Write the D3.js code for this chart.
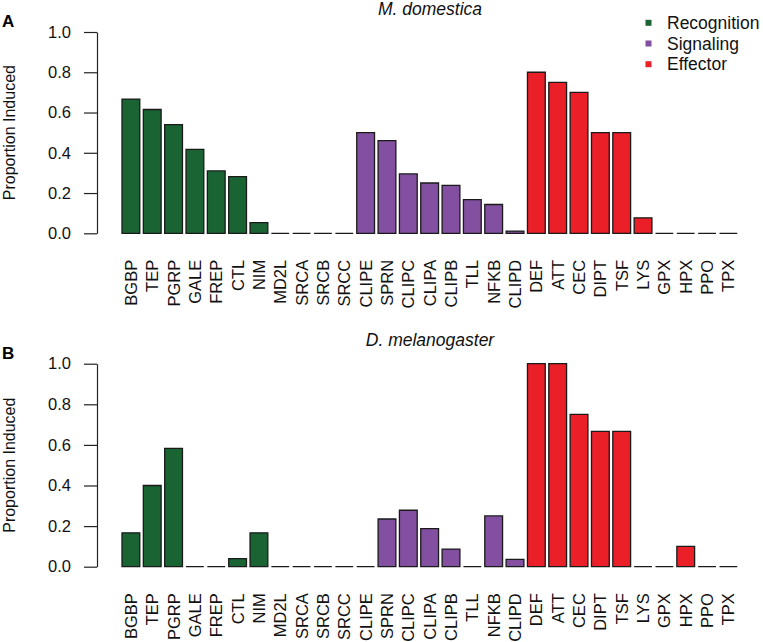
<!DOCTYPE html>
<html>
<head>
<meta charset="utf-8">
<script src="https://cdn.jsdelivr.net/npm/d3@7"></script>
<style>
  html, body { margin: 0; padding: 0; background: #fff; }
  svg { display: block; font-family: "Liberation Sans", Arial, Helvetica, sans-serif; }
</style>
</head>
<body>
<svg id="chart" width="763" height="642"></svg>
<script>
// ---- data ----
const genes = ["BGBP","TEP","PGRP","GALE","FREP","CTL","NIM","MD2L","SRCA","SRCB","SRCC",
               "CLIPE","SPRN","CLIPC","CLIPA","CLIPB","TLL","NFKB","CLIPD",
               "DEF","ATT","CEC","DIPT","TSF","LYS","GPX","HPX","PPO","TPX"];
const geneClass = ["Recognition","Recognition","Recognition","Recognition","Recognition","Recognition","Recognition","Recognition","Recognition","Recognition","Recognition",
                   "Signaling","Signaling","Signaling","Signaling","Signaling","Signaling","Signaling","Signaling",
                   "Effector","Effector","Effector","Effector","Effector","Effector","Effector","Effector","Effector","Effector"];
const domestica = [0.667,0.615,0.54,0.417,0.31,0.282,0.053,0,0,0,0,
                   0.5,0.46,0.295,0.25,0.238,0.167,0.143,0.011,
                   0.8,0.75,0.7,0.5,0.5,0.077,0,0,0,0];
const melanogaster = [0.167,0.4,0.583,0,0,0.04,0.167,0,0,0,0,
                      0,0.235,0.278,0.188,0.087,0,0.25,0.036,
                      1.0,1.0,0.75,0.667,0.667,0,0,0.1,0,0];
const classes = ["Recognition","Signaling","Effector"];
const classColors = ["#1a6434","#8350a1","#ea1f27"];
const yTicks = [0, 0.2, 0.4, 0.6, 0.8, 1.0];
const panels = [
  {letter: "A", title: "M. domestica", values: domestica, top: 32.0, bottom: 233.3},
  {letter: "B", title: "D. melanogaster", values: melanogaster, top: 363.7, bottom: 566.7}
];

// ---- drawing ----
const svg = d3.select("#chart");
const color = d3.scaleOrdinal().domain(classes).range(classColors);
const x = d3.scaleBand().domain(genes).range([122, 737.3]).paddingInner(1/6).paddingOuter(0);
const axisX = 97;

panels.forEach(p => {
  const g = svg.append("g");
  const y = d3.scaleLinear().domain([0, 1]).range([p.bottom, p.top]);

  // y axis
  const ax = g.append("g")
    .attr("transform", `translate(${axisX},0)`)
    .call(d3.axisLeft(y).tickValues(yTicks).tickFormat(d3.format(".1f"))
          .tickSize(13).tickSizeOuter(0).tickPadding(13));
  ax.select(".domain").attr("stroke", "#222").attr("stroke-width", 1.2);
  ax.selectAll(".tick line").attr("stroke", "#222").attr("stroke-width", 1.2);
  ax.selectAll(".tick text").attr("font-size", 16.5).attr("fill", "#111")
    .attr("font-family", '"Liberation Sans", Arial, sans-serif');

  // bars (path so zero-height bars still show as a line)
  g.selectAll("path.bar").data(genes).enter().append("path")
    .attr("class", "bar")
    .attr("d", (d, i) => {
      const x0 = x(d), w = x.bandwidth();
      const y0 = y(0), y1 = y(p.values[i]);
      return `M${x0},${y0}V${y1}H${x0 + w}V${y0}Z`;
    })
    .attr("fill", (d, i) => color(geneClass[i]))
    .attr("stroke", "#1a1a1a")
    .attr("stroke-width", 1.3);

  // category labels (rotated)
  const labelTop = p.bottom + 26.5;
  g.selectAll("text.gene").data(genes).enter().append("text")
    .attr("class", "gene")
    .attr("transform", d => `translate(${x(d) + x.bandwidth() / 2 + 6},${labelTop}) rotate(-90)`)
    .attr("text-anchor", "end")
    .attr("font-size", 16.5)
    .attr("fill", "#111")
    .text(d => d);

  // y label
  g.append("text")
    .attr("transform", `translate(${15},${(p.top + p.bottom) / 2}) rotate(-90)`)
    .attr("text-anchor", "middle")
    .attr("font-size", 16)
    .attr("fill", "#111")
    .text("Proportion Induced");

  // title
  g.append("text")
    .attr("x", 430)
    .attr("y", p.top - 17.5)
    .attr("text-anchor", "middle")
    .attr("font-size", 17.5)
    .attr("font-style", "italic")
    .attr("fill", "#111")
    .text(p.title);

  // panel letter
  g.append("text")
    .attr("x", 2)
    .attr("y", p.top - 5)
    .attr("font-size", 17)
    .attr("font-weight", "bold")
    .attr("fill", "#000")
    .text(p.letter);
});

// legend
const leg = svg.append("g");
classes.forEach((c, i) => {
  const cy = 22.8 + i * 20.7;
  leg.append("rect")
    .attr("x", 645.5).attr("y", cy - 3)
    .attr("width", 6).attr("height", 6)
    .attr("fill", color(c));
  leg.append("text")
    .attr("x", 667).attr("y", cy + 6)
    .attr("font-size", 17.5)
    .attr("fill", "#111")
    .text(c);
});
</script>
</body>
</html>
